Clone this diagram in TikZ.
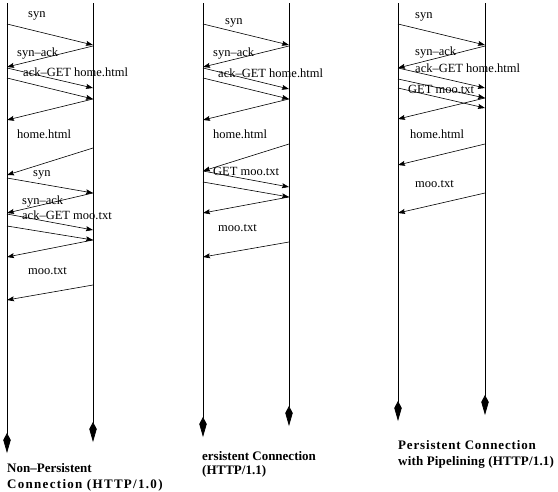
\documentclass[tikz,border=0pt]{standalone}
\usepackage{fontspec}
\setmainfont{Liberation Serif}
\usetikzlibrary{arrows.meta}
\begin{document}
\begin{tikzpicture}[x=1pt,y=-1pt,
  lifeline/.style={line width=0.8pt,-{Kite[length=20pt,width=7.5pt,inset=7pt]}},
  msg/.style={line width=0.6pt,-{Stealth[length=7pt,width=5pt,inset=1pt]}},
  lbl/.style={anchor=base west,inner sep=0pt,font=\fontsize{12.5}{14}\selectfont},
  captxt/.style={anchor=base west,inner sep=0pt,font=\bfseries\fontsize{13}{15}\selectfont}]
\useasboundingbox (0,0) rectangle (558,491);
% lifelines
\foreach \n/\x/\yb in {aL/7/453,aR/93/442,bL/203/437,bR/289/426,cL/398/421,cR/485/415}{
  \coordinate (\n-top) at (\x,3);
  \coordinate (\n-bot) at (\x,\yb);
  \draw[lifeline] (\n-top) -- (\n-bot);
}
% messages
\foreach \i/\xa/\ya/\xb/\yb in {
  1/7/24/93/45, 2/93/46/7/67, 3/7/68/93/88, 4/7/78/93/99, 5/93/99/7/120,
  6/93/148/7/175, 7/7/178/93/193, 8/93/193/7/213, 9/7/214/93/230,
  10/7/226/93/240, 11/93/240/7/257, 12/93/285/7/300,
  21/203/24/289/45, 22/289/46/203/67, 23/203/68/289/89, 24/203/78/289/99,
  25/289/99/203/120, 26/289/144/203/171, 27/203/171/289/187,
  28/203/182/289/197, 29/289/197/203/213, 30/289/242/203/257,
  41/398/24/485/45, 42/485/46/398/68, 43/398/68/485/88, 44/398/79/485/98,
  45/398/88/485/108, 46/485/98/398/119, 47/485/144/398/165, 48/485/193/398/213}{
  \coordinate (m\i-s) at (\xa,\ya);
  \coordinate (m\i-e) at (\xb,\yb);
  \draw[msg] (m\i-s) -- (m\i-e);
}
% labels panel 1
\node[lbl] (l1) at (28,17) {syn};
\node[lbl] (l2) at (17,56) {syn--ack};
\node[lbl] (l3) at (23,76) {ack--GET home.html};
\node[lbl] (l4) at (17,138) {home.html};
\node[lbl] (l5) at (33,176) {syn};
\node[lbl] (l6) at (22,204) {syn--ack};
\node[lbl] (l7) at (22,219) {ack--GET moo.txt};
\node[lbl] (l8) at (28,274) {moo.txt};
% labels panel 2
\node[lbl] (l9) at (225,24) {syn};
\node[lbl] (l10) at (213,56) {syn--ack};
\node[lbl] (l11) at (218,77) {ack--GET home.html};
\node[lbl] (l12) at (213,138) {home.html};
\node[lbl] (l13) at (213,175) {GET moo.txt};
\node[lbl] (l14) at (218,231) {moo.txt};
% labels panel 3
\node[lbl] (l15) at (415,18) {syn};
\node[lbl] (l16) at (415,55) {syn--ack};
\node[lbl] (l17) at (415,72) {ack--GET home.html};
\node[lbl] (l18) at (408,93) {GET moo.txt};
\node[lbl] (l19) at (410,138) {home.html};
\node[lbl] (l20) at (415,187) {moo.txt};
% captions
\node[captxt] (c1) at (7,472) {Non--Persistent};
\node[captxt] (c2) at (7,488) {\addfontfeatures{LetterSpace=10}Connection (HTTP/1.0)};
\node[captxt] (c3) at (202,460) {ersistent Connection};
\node[captxt] (c4) at (202,474) {(HTTP/1.1)};
\node[captxt] (c5) at (398,449) {\addfontfeatures{LetterSpace=6.5}Persistent Connection};
\node[captxt] (c6) at (398,465) {\addfontfeatures{LetterSpace=1.5}with Pipelining (HTTP/1.1)};
\end{tikzpicture}
\end{document}
